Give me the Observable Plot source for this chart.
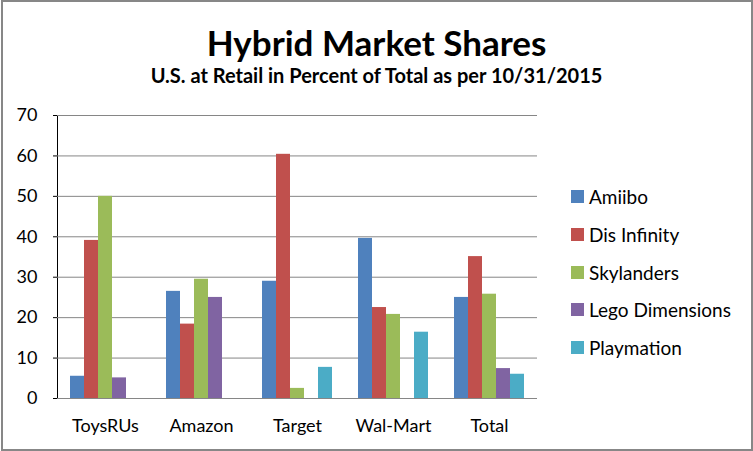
<!DOCTYPE html>
<html><head><meta charset="utf-8">
<script src="https://cdn.jsdelivr.net/npm/d3@7"></script>
<script src="https://cdn.jsdelivr.net/npm/@observablehq/plot@0.6"></script>
<style>
body{margin:0;background:#fff;}
#root{position:relative;width:753px;height:451px;overflow:hidden;background:#fff;font-family:Lato,sans-serif;color:#000;}
#border{position:absolute;left:1px;top:0;width:752px;height:451px;box-sizing:border-box;border:2px solid #878787;pointer-events:none;}
#title{position:absolute;top:22px;left:0;width:753px;text-align:center;font-weight:bold;font-size:35px;line-height:40px;}
#subtitle{position:absolute;top:63px;left:0;width:753px;text-align:center;font-weight:bold;font-size:20px;line-height:24px;}
#chart{position:absolute;left:0;top:100px;}
#legend{position:absolute;left:571px;top:178px;}
.item{display:flex;align-items:center;height:37.7px;font-size:19px;}
.sw{width:13px;height:13px;margin-right:5px;}
#chart g[aria-label="y-axis"] path, #chart g[aria-label="y-axis"] line{stroke:#868686;}
#chart g[aria-label="y-axis"]{font-size:17.5px;}
#chart g[aria-label="fx-axis"]{font-size:19px;}
</style></head>
<body><div id="root">
<div id="title">Hybrid Market Shares</div>
<div id="subtitle">U.S. at Retail in Percent of Total as per 10/31/2015</div>
<div id="chart"></div>
<div id="legend"></div>
<div id="border"></div>
</div>
<script>
const categories = ["ToysRUs", "Amazon", "Target", "Wal-Mart", "Total"];
const series = ["Amiibo", "Dis Infinity", "Skylanders", "Lego Dimensions", "Playmation"];
const colors = ["#4F81BD", "#C0504D", "#9BBB59", "#8064A2", "#4BACC6"];
const amiibo = [5.5, 26.5, 29.0, 39.6, 25.0];
const disInfinity = [39.1, 18.4, 60.4, 22.5, 35.1];
const skylanders = [50.0, 29.5, 2.5, 20.8, 25.8];
const legoDimensions = [5.1, 25.0, 0, 0, 7.4];
const playmation = [0, 0, 7.7, 16.4, 6.0];
const yTicks = [0, 10, 20, 30, 40, 50, 60, 70];

const seriesValues = [amiibo, disInfinity, skylanders, legoDimensions, playmation];
const data = series.flatMap((s, i) => categories.map((c, j) => ({category: c, series: s, value: seriesValues[i][j]})));

const chart = Plot.plot({
  width: 545, height: 338,
  marginLeft: 55, marginRight: 7, marginTop: 15, marginBottom: 40,
  style: {fontFamily: "Lato, sans-serif", fontSize: "18px", color: "#000", background: "transparent", overflow: "visible"},
  facet: {data, x: "category"},
  fx: {domain: categories, padding: 0, label: null, axis: "bottom", tickSize: 0, tickPadding: 21},
  x: {domain: series, paddingInner: 0, paddingOuter: 0.72, axis: null},
  y: {domain: [0, 70], ticks: 7, tickSize: 4, tickPadding: 16, label: null, line: true},
  color: {domain: series, range: colors},
  marks: [
    Plot.ruleY(yTicks, {stroke: "#868686", strokeWidth: 1}),
    Plot.barY(data, {x: "series", y: "value", fill: "series"})
  ]
});
document.getElementById("chart").appendChild(chart);

const legend = d3.select("#legend");
series.forEach((s, i) => {
  const it = legend.append("div").attr("class", "item");
  it.append("div").attr("class", "sw").style("background", colors[i]);
  it.append("span").text(s);
});
</script>
</body></html>
